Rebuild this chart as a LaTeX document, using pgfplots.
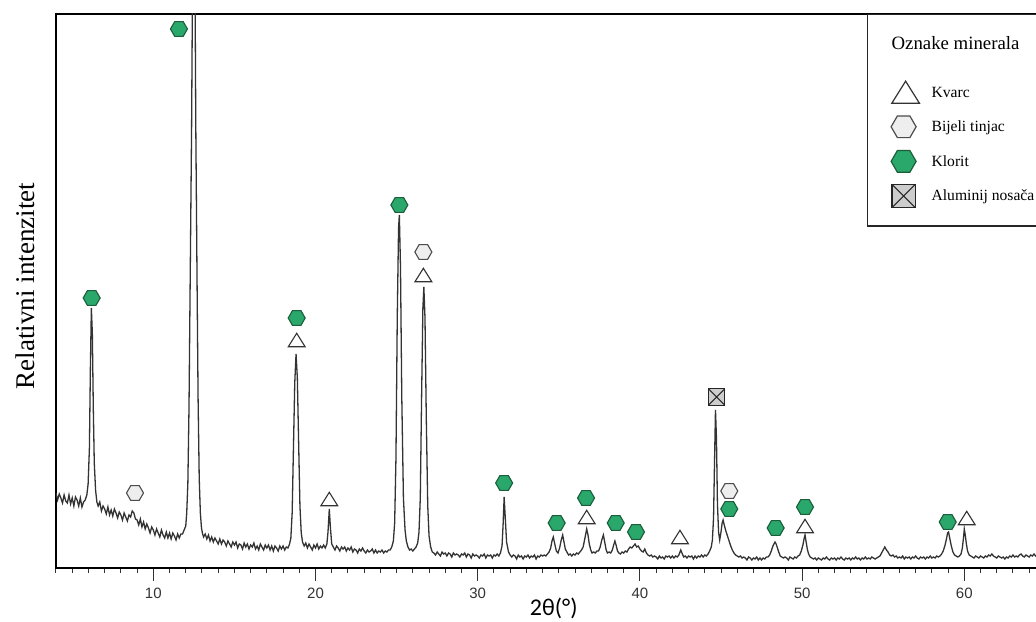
\documentclass[border=0pt]{standalone}
\usepackage{fontspec}
\setmainfont{Liberation Serif}
\newfontfamily\ticksfont{Liberation Sans}
\newfontfamily\carlito{Carlito}
\usepackage{pgfplots}
\pgfplotsset{compat=1.18}
\definecolor{klorit}{HTML}{2AA76A}
\definecolor{kloritdark}{HTML}{1B5E3B}
\definecolor{tinjac}{HTML}{EEEEEE}
\definecolor{alu}{HTML}{CDCDCD}
\definecolor{curve}{HTML}{333333}
\pgfdeclareplotmark{hexa}{%
 \pgfpathmoveto{\pgfqpoint{\pgfplotmarksize}{0pt}}%
 \pgfpathlineto{\pgfqpoint{0.5\pgfplotmarksize}{0.866\pgfplotmarksize}}%
 \pgfpathlineto{\pgfqpoint{-0.5\pgfplotmarksize}{0.866\pgfplotmarksize}}%
 \pgfpathlineto{\pgfqpoint{-\pgfplotmarksize}{0pt}}%
 \pgfpathlineto{\pgfqpoint{-0.5\pgfplotmarksize}{-0.866\pgfplotmarksize}}%
 \pgfpathlineto{\pgfqpoint{0.5\pgfplotmarksize}{-0.866\pgfplotmarksize}}%
 \pgfpathclose
 \pgfusepathqfillstroke}
\pgfdeclareplotmark{tri}{%
 \pgfpathmoveto{\pgfqpoint{0pt}{0.8\pgfplotmarksize}}%
 \pgfpathlineto{\pgfqpoint{-\pgfplotmarksize}{-0.8\pgfplotmarksize}}%
 \pgfpathlineto{\pgfqpoint{\pgfplotmarksize}{-0.8\pgfplotmarksize}}%
 \pgfpathclose
 \pgfusepathqfillstroke}
\pgfdeclareplotmark{sqx}{%
 \pgfpathrectanglecorners{\pgfqpoint{-\pgfplotmarksize}{-\pgfplotmarksize}}{\pgfqpoint{\pgfplotmarksize}{\pgfplotmarksize}}%
 \pgfusepathqfillstroke
 \pgfpathmoveto{\pgfqpoint{-\pgfplotmarksize}{-\pgfplotmarksize}}%
 \pgfpathlineto{\pgfqpoint{\pgfplotmarksize}{\pgfplotmarksize}}%
 \pgfpathmoveto{\pgfqpoint{-\pgfplotmarksize}{\pgfplotmarksize}}%
 \pgfpathlineto{\pgfqpoint{\pgfplotmarksize}{-\pgfplotmarksize}}%
 \pgfusepathqstroke}
\begin{document}
\begin{tikzpicture}
\begin{axis}[
  name=ax,
  scale only axis,
  width=502.8pt, height=277pt,
  xmin=4, xmax=66, ymin=0, ymax=554,
  clip mode=individual,
  axis line style={black, line width=0.8pt},
  ytick=\empty,
  xtick={10,20,30,40,50,60},
  minor xtick={4,5,...,66},
  tick align=outside,
  xtick pos=bottom,
  major tick length=6.5pt,
  minor tick length=2.5pt,
  tick style={black!80, line width=0.5pt},
  /pgf/number format/assume math mode=true,
  xticklabel style={font=\ticksfont\fontsize{7.5}{9}\selectfont, text=black!80},
  xlabel={2θ(°)},
  xlabel style={font=\carlito\fontsize{12}{14}\selectfont, at={(axis description cs:0.495,0)}, anchor=center, yshift=-20pt},
  ylabel={Relativni intenzitet},
  ylabel style={font=\fontsize{13.5}{16}\selectfont, at={(axis description cs:-0.0305,0.509)}, anchor=center},
  legend cell align=left,
  legend style={at={(0.8065,1)}, anchor=north west, draw=black!85, line width=0.6pt, fill=white,
    inner xsep=3pt, inner ysep=10pt, row sep=7.3pt, column sep=5pt,
    nodes={inner sep=0pt, text height=5.5pt, text depth=0.5pt},
    font=\fontsize{7.8}{9}\selectfont},
]
\addplot[curve, line width=0.65pt, forget plot] coordinates {
(4.0,75)(4.1,68)(4.2,74)(4.3,70)(4.4,65)(4.5,73)(4.6,67)(4.7,65)(4.8,73)(4.9,64)(5.0,70)(5.1,62)(5.2,71)(5.3,68)(5.4,62)(5.5,70)(5.6,61)(5.7,66)(5.8,68)(5.9,73)
(5.98,84)(6.06,120)(6.12,200)(6.18,260)(6.24,235)(6.3,160)(6.36,105)(6.44,78)(6.52,66)
(6.6,62)(6.7,66)(6.8,57)(6.9,62)(7.0,59)(7.1,54)(7.2,61)(7.3,53)(7.4,58)(7.5,52)(7.6,59)(7.7,55)(7.8,50)(7.9,56)(8.0,53)(8.1,48)(8.2,55)(8.3,51)(8.4,47)(8.5,53)(8.6,51)(8.7,57)(8.8,55)(8.9,49)(9.0,48)(9.1,43)(9.2,49)(9.3,41)(9.4,46)(9.5,39)(9.6,44)(9.7,40)(9.8,35)(9.9,41)(10.0,38)(10.1,33)(10.2,39)(10.3,35)(10.4,31)(10.5,38)(10.6,33)(10.7,30)(10.8,36)(10.9,30)(11.0,35)(11.1,29)(11.2,35)(11.3,32)(11.4,28)(11.5,34)(11.6,30)(11.7,34)(11.8,34)(11.9,38)(12.0,42)
(12.06,55)(12.13,85)(12.2,160)(12.28,300)(12.36,440)(12.5,800)(12.62,440)(12.69,300)(12.76,170)(12.83,90)(12.9,55)(12.97,40)(13.04,34)
(13.1,31)(13.2,34)(13.3,29)(13.4,33)(13.5,27)(13.6,31)(13.7,26)(13.8,30)(13.9,27)(14.0,24)(14.1,29)(14.2,24)(14.3,28)(14.4,26)(14.5,22)(14.6,27)(14.7,24)(14.8,21)(14.9,26)(15.0,23)(15.1,26)(15.2,20)(15.3,24)(15.4,23)(15.5,19)(15.6,25)(15.7,21)(15.8,24)(15.9,19)(16.0,23)(16.1,21)(16.2,25)(16.3,19)(16.4,22)(16.5,18)(16.6,24)(16.7,21)(16.8,18)(16.9,23)(17.0,20)(17.1,23)(17.2,18)(17.3,22)(17.4,17)(17.5,22)(17.6,20)(17.7,17)(17.8,22)(17.9,19)(18.0,22)(18.1,18)(18.2,21)(18.3,20)(18.4,24)(18.48,30)
(18.56,55)(18.64,120)(18.72,185)(18.8,214)(18.88,190)(18.96,125)(19.04,62)(19.12,35)(19.2,26)
(19.3,22)(19.4,25)(19.5,20)(19.6,24)(19.7,21)(19.8,18)(19.9,23)(20.0,20)(20.1,24)(20.2,19)(20.3,22)(20.4,20)(20.5,23)(20.6,20)(20.7,24)(20.77,36)(20.85,59)(20.92,40)(21.0,24)(21.1,21)(21.2,18)(21.3,22)(21.4,20)(21.5,17)(21.6,21)(21.7,19)(21.8,21)(21.9,17)(22.0,20)(22.1,18)(22.2,21)(22.3,16)(22.4,19)(22.5,18)(22.6,15)(22.7,19)(22.8,17)(22.9,20)(23.0,17)(23.1,15)(23.2,18)(23.3,16)(23.4,17)(23.5,19)(23.6,15)(23.7,18)(23.8,15)(23.9,17)(24.0,16)(24.1,18)(24.2,15)(24.3,17)(24.4,16)(24.5,18)(24.6,18)(24.7,21)(24.8,27)
(24.88,45)(24.96,110)(25.04,250)(25.12,340)(25.17,353)(25.24,300)(25.32,170)(25.42,70)(25.52,38)(25.6,27)(25.7,21)(25.8,18)(25.9,19)(26.0,17)(26.1,19)(26.2,21)(26.3,25)(26.38,36)(26.46,70)(26.54,170)(26.62,260)(26.68,281)(26.75,250)(26.83,150)(26.92,62)(27.0,32)(27.1,21)(27.2,16)
(27.3,15)(27.4,13)(27.5,16)(27.6,14)(27.7,12)(27.8,16)(27.9,14)(28.0,15)(28.1,12)(28.2,15)(28.3,14)(28.4,11)(28.5,15)(28.6,13)(28.7,14)(28.8,13)(28.9,11)(29.0,14)(29.1,13)(29.2,15)(29.3,11)(29.4,14)(29.5,13)(29.6,10)(29.7,14)(29.8,12)(29.9,13)(30.0,12)(30.1,10)(30.2,13)(30.3,12)(30.4,14)(30.5,10)(30.6,13)(30.7,12)(30.8,13)(30.9,10)(31.0,13)(31.1,12)(31.2,14)(31.3,12)(31.4,15)(31.5,22)(31.57,45)(31.63,71)(31.7,50)(31.78,26)(31.9,16)
(32.0,13)(32.1,11)(32.2,13)(32.3,12)(32.4,9)(32.5,13)(32.6,11)(32.7,12)(32.8,9)(32.9,12)(33.0,11)(33.1,13)(33.2,10)(33.3,12)(33.4,11)(33.5,13)(33.6,9)(33.7,12)(33.8,11)(33.9,13)(34.0,12)(34.1,13)(34.2,12)(34.3,14)(34.4,16)(34.5,20)(34.58,27)(34.66,31)(34.75,24)(34.85,17)(34.95,15)(35.05,20)(35.15,28)(35.24,33)(35.32,26)(35.4,19)(35.5,16)(35.6,13)(35.7,14)(35.8,12)(35.9,14)(36.0,13)(36.1,15)(36.2,14)(36.3,16)(36.4,18)(36.5,21)(36.6,29)(36.72,39)(36.8,33)(36.88,24)(36.97,18)(37.05,15)(37.15,16)(37.25,15)(37.35,17)(37.45,17)(37.55,21)(37.65,28)(37.75,33)(37.83,26)(37.92,18)(38.0,15)(38.1,16)(38.2,15)(38.3,18)(38.4,24)(38.46,27)(38.53,23)(38.62,17)(38.7,15)(38.8,14)(38.9,16)(39.0,15)(39.1,17)(39.2,16)(39.3,19)(39.4,21)(39.5,20)(39.6,22)(39.7,24)(39.8,21)(39.9,22)(40.0,19)(40.1,17)(40.2,16)(40.3,19)(40.4,15)(40.5,13)(40.6,12)(40.7,13)
(40.8,11)(40.9,12)(41.0,11)(41.1,9)(41.2,12)(41.3,10)(41.4,11)(41.5,9)(41.6,12)(41.7,11)(41.8,12)(41.9,10)(42.0,12)(42.1,10)(42.2,12)(42.3,11)(42.4,13)(42.52,18)(42.62,14)(42.7,11)(42.8,12)(42.9,10)(43.0,12)(43.1,11)(43.2,12)(43.3,9)(43.4,12)(43.5,10)(43.6,12)(43.7,11)(43.8,13)(43.9,11)(44.0,13)(44.1,12)(44.2,14)(44.3,17)(44.4,21)(44.47,28)(44.54,50)(44.6,105)(44.66,158)(44.72,130)(44.78,65)(44.85,36)(44.92,28)(45.0,36)(45.07,45)(45.13,48)(45.2,43)(45.3,37)(45.4,32)(45.5,27)(45.6,22)(45.7,18)(45.8,15)(45.9,13)(46.0,12)
(46.1,11)(46.2,12)(46.3,10)(46.4,11)(46.5,10)(46.6,8)(46.7,11)(46.8,10)(46.9,8)(47.0,10)(47.1,9)(47.2,11)(47.3,8)(47.4,10)(47.5,8)(47.6,10)(47.7,9)(47.8,11)(47.9,11)(48.0,13)(48.1,17)(48.2,22)(48.33,26)(48.4,24)(48.48,20)(48.56,16)(48.65,12)(48.75,11)(48.85,10)(48.95,11)(49.05,10)(49.15,8)(49.25,11)(49.35,10)(49.45,9)(49.55,11)(49.65,10)(49.75,12)(49.85,13)(49.95,17)(50.05,23)(50.12,29)(50.18,33)(50.25,26)(50.32,19)(50.4,14)(50.5,11)(50.6,10)
(50.7,9)(50.8,10)(50.9,8)(51.0,10)(51.1,9)(51.2,8)(51.3,10)(51.4,9)(51.5,11)(51.6,9)(51.7,8)(51.8,10)(51.9,9)(52.0,10)(52.1,8)(52.2,10)(52.3,9)(52.4,11)(52.5,9)(52.6,8)(52.7,10)(52.8,9)(52.9,10)(53.0,8)(53.1,10)(53.2,9)(53.3,11)(53.4,9)(53.5,10)(53.6,8)(53.7,10)(53.8,9)(53.9,11)(54.0,9)(54.1,10)(54.2,9)(54.3,11)(54.4,10)(54.5,9)(54.6,10)(54.7,11)(54.8,12)(54.9,15)(55.0,18)(55.1,21)(55.2,18)(55.3,16)(55.4,13)(55.5,12)(55.6,13)(55.7,11)(55.8,12)(55.9,10)(56.0,11)(56.1,10)(56.2,12)(56.3,9)(56.4,11)(56.5,10)(56.6,11)(56.7,9)(56.8,11)(56.9,10)(57.0,12)(57.1,10)(57.2,9)(57.3,11)(57.4,10)(57.5,11)(57.6,9)(57.7,11)(57.8,10)(57.9,12)(58.0,10)(58.1,11)(58.2,10)(58.3,12)(58.4,11)(58.5,12)(58.6,14)(58.7,17)(58.8,22)(58.9,29)(58.97,35)(59.03,36)(59.1,30)(59.2,22)(59.3,16)(59.4,13)(59.5,12)(59.6,11)(59.7,12)(59.8,14)(59.88,20)(59.95,30)(60.0,39)(60.06,33)(60.13,24)(60.2,17)(60.3,13)(60.4,12)(60.5,11)
(60.6,10)(60.7,12)(60.8,11)(60.9,10)(61.0,12)(61.1,11)(61.2,10)(61.3,12)(61.4,11)(61.5,13)(61.6,12)(61.7,14)(61.8,12)(61.9,11)(62.0,10)(62.1,12)(62.2,11)(62.3,10)(62.4,11)(62.5,9)(62.6,11)(62.7,10)(62.8,12)(62.9,11)(63.0,13)(63.1,11)(63.2,12)(63.3,11)(63.4,13)(63.5,14)(63.6,12)(63.7,11)(63.8,13)(63.9,12)(64.0,11)(64.1,13)(64.2,12)(64.3,14)(64.4,12)(64.5,11)(64.6,12)(64.7,11)(65.0,12)(65.5,11)(66.0,12)
};
% Kvarc
\addplot[only marks, forget plot, mark=tri, mark size=4.2pt, mark options={fill=white, draw=black!80, line width=0.55pt}] coordinates {
(18.84,228)(20.85,69)(26.65,293)(36.72,51)(42.47,31)(50.18,42)(60.15,50)};
% Bijeli tinjac
\addplot[only marks, forget plot, mark=hexa, mark size=4.25pt, mark options={fill=tinjac, draw=black!70, line width=0.55pt}] coordinates {
(8.87,75)(26.65,316)(45.51,77)};
% Klorit
\addplot[only marks, forget plot, mark=hexa, mark size=4.25pt, mark options={fill=klorit, draw=kloritdark, line width=0.55pt}] coordinates {
(6.2,270)(11.58,539)(18.84,250)(25.17,363)(31.63,85)(34.87,45)(36.68,70)(38.51,45)(39.76,36)(45.51,59)(48.37,40)(50.18,61)(58.98,46)};
% Aluminij nosaca
\addplot[only marks, forget plot, mark=sqx, mark size=4.1pt, mark options={fill=alu, draw=black!85, line width=0.55pt}] coordinates {
(44.73,171)};
% legend
\addlegendimage{legend image code/.code={\path[draw=none, fill=none] (0pt,-11.5pt) rectangle (24pt,5pt);}}
\addlegendentry{\hspace*{-20pt}\fontsize{9.4}{11}\selectfont Oznake minerala}
\addlegendimage{legend image code/.code={\path[draw=none, fill=none] (0pt,-5pt) rectangle (24pt,5pt); \draw[overlay, line width=0.6pt, only marks, mark=tri, mark size=6.9pt, mark options={fill=white, draw=black!80, line width=0.6pt}] plot coordinates {(16pt,0pt)};}}
\addlegendentry{Kvarc}
\addlegendimage{legend image code/.code={\path[draw=none, fill=none] (0pt,-5pt) rectangle (24pt,5pt); \draw[overlay, line width=0.6pt, only marks, mark=hexa, mark size=6.25pt, mark options={fill=tinjac, draw=black!70, line width=0.6pt}] plot coordinates {(15pt,0pt)};}}
\addlegendentry{Bijeli tinjac}
\addlegendimage{legend image code/.code={\path[draw=none, fill=none] (0pt,-5pt) rectangle (24pt,5pt); \draw[overlay, line width=0.6pt, only marks, mark=hexa, mark size=6.25pt, mark options={fill=klorit, draw=kloritdark, line width=0.6pt}] plot coordinates {(15pt,0pt)};}}
\addlegendentry{Klorit}
\addlegendimage{legend image code/.code={\path[draw=none, fill=none] (0pt,-5pt) rectangle (24pt,5pt); \draw[overlay, line width=0.6pt, only marks, mark=sqx, mark size=5.8pt, mark options={fill=alu, draw=black!85, line width=0.6pt}] plot coordinates {(15pt,0pt)};}}
\addlegendentry{Aluminij nosača}
\end{axis}
\pgfresetboundingbox
\path ([shift={(-28pt,-26.5pt)}]ax.south west) rectangle ++(518pt,310.5pt);
\end{tikzpicture}
\end{document}
